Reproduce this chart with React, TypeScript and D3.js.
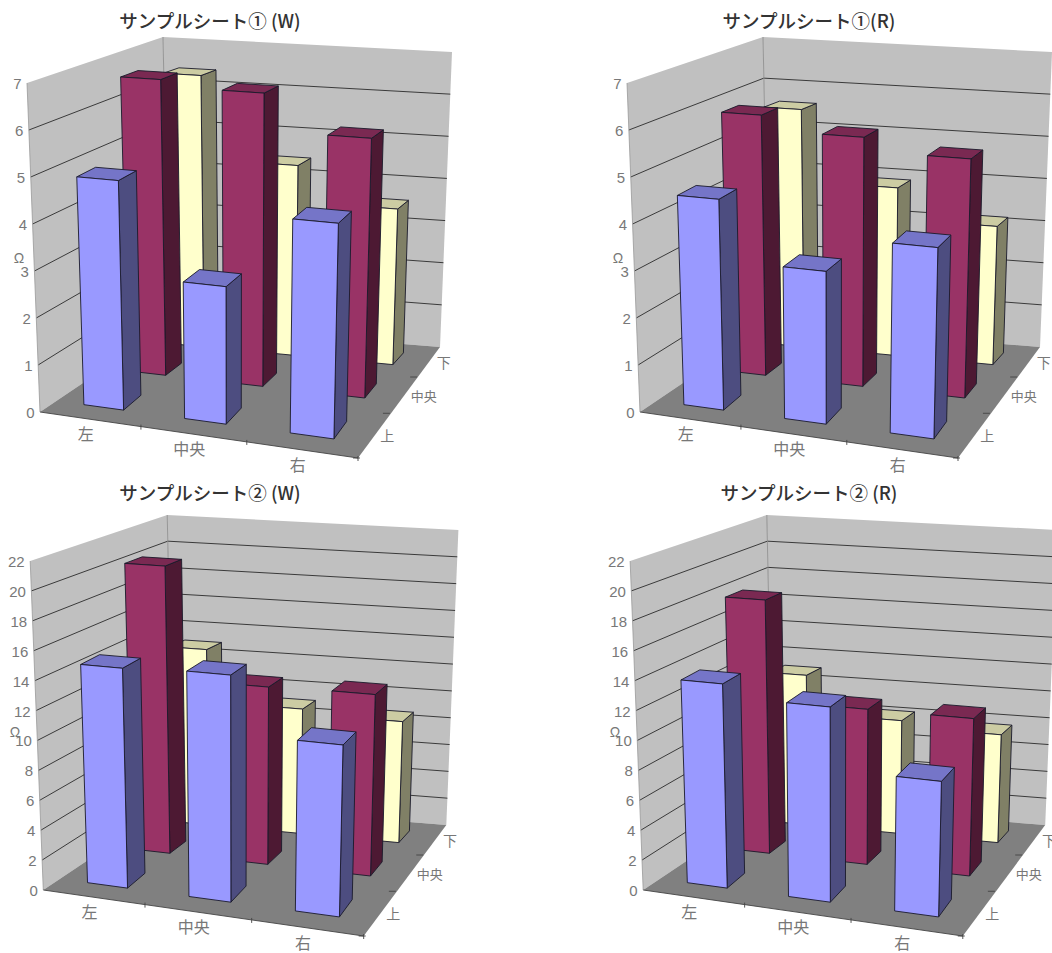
import React from "react";
import * as d3 from "d3";

const columns = ["左", "中央", "右"];
const rows = ["上", "中央", "下"];

// Each table: one list per depth row (上, 中央, 下), one value per column (左, 中央, 右).
const sheet1W = [
  [4.9, 2.88, 4.43],
  [6.65, 6.5, 5.67],
  [6.38, 4.42, 3.58],
];
const sheet1R = [
  [4.5, 3.2, 3.93],
  [5.85, 5.52, 5.22],
  [5.58, 3.9, 3.18],
];
const sheet2W = [
  [14.75, 14.95, 11.1],
  [20.3, 12.35, 12.45],
  [12.95, 9.1, 8.75],
];
const sheet2R = [
  [13.7, 12.85, 8.75],
  [17.9, 10.8, 10.8],
  [11.05, 8.25, 7.8],
];

const ticks7 = [0, 1, 2, 3, 4, 5, 6, 7];
const ticks22 = [0, 2, 4, 6, 8, 10, 12, 14, 16, 18, 20, 22];

type Pt = [number, number];

// Screen corners of the plot box, before a panel's own offset.
const floorCorners: Pt[] = [[40, 412], [358, 458], [169, 325], [440, 347]];
const ceilCorners: Pt[] = [[27, 83], [367, 108], [163, 37], [452, 52]];

const rowColors = [
  { front: "#9999ff", side: "#4d4d80", top: "#7575c8" },
  { front: "#993366", side: "#4d1933", top: "#7a2952" },
  { front: "#ffffcc", side: "#808066", top: "#cccca3" },
];

const panels = [
  { title: "サンプルシート① (W)", data: sheet1W, ticks: ticks7, dx: 0, dy: 0, sx: 1, tx: 210, ty: 28, omega: [19, 258] },
  { title: "サンプルシート①(R)", data: sheet1R, ticks: ticks7, dx: 600, dy: 0, sx: 1, tx: 809, ty: 28, omega: [618, 258] },
  { title: "サンプルシート② (W)", data: sheet2W, ticks: ticks22, dx: 3, dy: 478, sx: 1.0075, tx: 210, ty: 500, omega: [15, 732] },
  { title: "サンプルシート② (R)", data: sheet2R, ticks: ticks22, dx: 603, dy: 478, sx: 1.005, tx: 809, ty: 500, omega: [615, 732] },
];

const labelFont = "'Liberation Sans', Arial, sans-serif";
const cjkFont = "'Noto Sans CJK JP', sans-serif";

// Foreshortening along a box edge; the depth axis compresses differently across and down the page.
const warp = (a: number) => (t: number) => (a * t) / (1 + t * (a - 1));
const warpU = warp(0.93);
const warpDepthX = warp(1.15);
const warpDepthY = warp(1.35);

const lerp = (a: Pt, b: Pt, t: number): Pt => [a[0] + (b[0] - a[0]) * t, a[1] + (b[1] - a[1]) * t];

const poly = d3.line<Pt>().curve(d3.curveLinearClosed);
const seg = d3.line<Pt>();

function Panel({ panel }: { panel: (typeof panels)[number] }) {
  const { data, ticks, dx, dy, sx } = panel;
  const vMax = ticks[ticks.length - 1];

  const xBand = d3.scaleBand<number>().domain([0, 1, 2]).range([0, 1]).paddingInner(0.6).paddingOuter(0.3);
  const dBand = d3.scaleBand<number>().domain([0, 1, 2]).range([0, 1]).paddingInner(0.6).paddingOuter(0.3);
  const vScale = d3.scaleLinear().domain([0, vMax]).range([0, 1]);

  // Box coordinates (u across, d into the page, v up, each 0..1) to screen.
  const project = (u: number, d: number, v: number): Pt => {
    const uw = warpU(u);
    const plane = (c: Pt[]): Pt => {
      const front = lerp(c[0], c[1], uw);
      const back = lerp(c[2], c[3], uw);
      return [lerp(front, back, warpDepthX(d))[0], lerp(front, back, warpDepthY(d))[1]];
    };
    const p = lerp(plane(floorCorners), plane(ceilCorners), v);
    return [p[0] * sx + dx, p[1] + dy];
  };

  const walls = [
    { pts: [project(0, 0, 0), project(0, 1, 0), project(0, 1, 1), project(0, 0, 1)], fill: "#c0c0c0" },
    { pts: [project(0, 1, 0), project(1, 1, 0), project(1, 1, 1), project(0, 1, 1)], fill: "#c0c0c0" },
    { pts: [project(0, 0, 0), project(1, 0, 0), project(1, 1, 0), project(0, 1, 0)], fill: "#808080" },
  ];

  const splits = [1 / 3, 2 / 3, 1];
  const rowLabelShift = [7, 9, 9];

  return (
    <g>
      {walls.map((w, i) => (
        <path key={i} d={poly(w.pts)!} fill={w.fill} />
      ))}
      {/* Value gridlines run along the left wall, then the back wall */}
      {ticks.slice(1, -1).map((t) => (
        <path
          key={t}
          d={seg([project(0, 0, vScale(t)), project(0, 1, vScale(t)), project(1, 1, vScale(t))])!}
          fill="none"
          stroke="#3a3a3a"
          strokeWidth={1}
        />
      ))}
      <path d={seg([project(0, 1, 0), project(0, 1, 1)])!} stroke="#888" strokeWidth={0.8} fill="none" />
      <path d={seg([project(0, 0, 0), project(0, 0, 1)])!} stroke="#999" strokeWidth={0.8} fill="none" />

      {/* Front floor edge and the tick marks on both floor edges */}
      <path d={seg([project(0, 0, 0), project(1, 0, 0)])!} stroke="#444" strokeWidth={0.9} fill="none" />
      {splits.map((s) => {
        const a = project(s, 0, 0);
        return <path key={"x" + s} d={seg([[a[0], a[1] - 2], [a[0], a[1] + 3]])!} stroke="#444" strokeWidth={0.9} fill="none" />;
      })}
      {[0, 1 / 3, 2 / 3].map((s) => {
        const a = project(1, s, 0);
        return <path key={"d" + s} d={seg([[a[0] - 5, a[1]], [a[0] + 2, a[1]]])!} stroke="#444" strokeWidth={0.9} fill="none" />;
      })}

      {/* Bars, painted from the far row to the near row */}
      {[2, 1, 0].map((r) =>
        columns.map((_, c) => {
          const u0 = xBand(c)!;
          const u1 = u0 + xBand.bandwidth();
          const d0 = dBand(r)!;
          const d1 = d0 + dBand.bandwidth();
          const v = vScale(data[r][c]);
          const col = rowColors[r];
          const faces = [
            { pts: [project(u1, d0, 0), project(u1, d1, 0), project(u1, d1, v), project(u1, d0, v)], fill: col.side },
            { pts: [project(u0, d0, v), project(u1, d0, v), project(u1, d1, v), project(u0, d1, v)], fill: col.top },
            { pts: [project(u0, d0, 0), project(u1, d0, 0), project(u1, d0, v), project(u0, d0, v)], fill: col.front },
          ];
          return (
            <g key={r + "-" + c}>
              {faces.map((f, i) => (
                <path key={i} d={poly(f.pts)!} fill={f.fill} stroke="#1a1a2a" strokeWidth={0.9} strokeLinejoin="round" />
              ))}
            </g>
          );
        })
      )}

      {/* Value axis labels */}
      {ticks.map((t) => {
        const p = project(0, 0, vScale(t));
        return (
          <text key={t} x={p[0] - 5.5} y={p[1] + 6} textAnchor="end" fontFamily={labelFont} fontSize={15} fill="#787878">
            {t}
          </text>
        );
      })}

      {/* Column labels along the front edge */}
      {columns.map((name, c) => {
        const p = project(xBand(c)! + xBand.bandwidth() / 2, 0, 0);
        return (
          <text key={name} x={p[0] - 4} y={p[1] + 21} textAnchor="middle" fontFamily={cjkFont} fontSize={16} fill="#777">
            {name}
          </text>
        );
      })}

      {/* Row labels along the right edge */}
      {rows.map((name, r) => {
        const p = project(1, dBand(r)! + dBand.bandwidth() / 2, 0);
        return (
          <text key={name} x={p[0] + rowLabelShift[r]} y={p[1] + 7} textAnchor="start" fontFamily={cjkFont} fontSize={r === 1 ? 13 : 14} fill="#777">
            {name}
          </text>
        );
      })}

      <text x={panel.omega[0]} y={panel.omega[1]} textAnchor="middle" dominantBaseline="central" fontFamily={labelFont} fontSize={14} fill="#777">
        Ω
      </text>

      <text x={panel.tx} y={panel.ty} textAnchor="middle" fontFamily={cjkFont} fontSize={18.5} fontWeight={500} fill="#333">
        {panel.title}
      </text>
    </g>
  );
}

export default function App() {
  return (
    <svg width={1052} height={953} style={{ position: "absolute", left: 0, top: 0, display: "block", background: "#fff" }}>
      {panels.map((p) => (
        <Panel key={p.title} panel={p} />
      ))}
    </svg>
  );
}
